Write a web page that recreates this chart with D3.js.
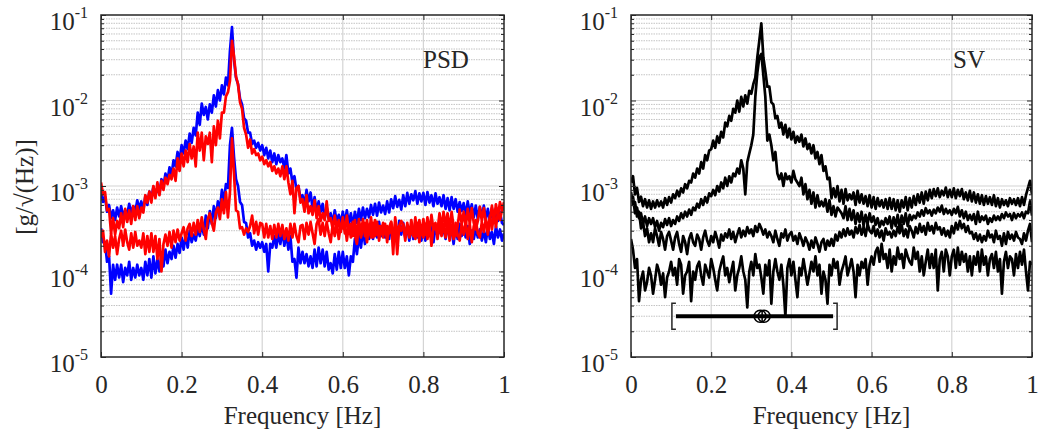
<html>
<script src="https://d3js.org/d3.v7.min.js"></script>
<style>
    body { margin: 0; background: #fff; }
    svg { font-family: "Liberation Serif", "Times New Roman", serif; }
    .curve { fill: none; stroke-width: 2.7px; stroke-linejoin: round; }
    .major { stroke: #d4d4d4; stroke-width: 1.2px; }
    .minor { stroke: #c4c4c4; stroke-width: 1px; stroke-dasharray: 1.5,1; }
    .tick line { stroke: #262626; }
    .tick text, .lbl { fill: #262626; font-size: 25px; font-family: "Liberation Serif", "Times New Roman", serif; }
</style>
<svg width=1040 height=439></svg>
<script>
    // frequency bins [Hz], 0.005 Hz resolution
    let freq = d3.range(0, 201).map(i => i * 0.005);

    // all amplitudes in units of 1e-4 g/sqrt(Hz), one row = 0.05 Hz
    let unit = 1e-4;

    // PSD panel
    let psdBlueHigh = [
        9, 6.5, 7.5, 5, 6, 4.2, 5.2, 4, 5.6, 4.4,
        5.8, 4.4, 5.2, 4.6, 6.2, 4.8, 5.8, 5, 6.8, 5.4,
        6.6, 5.2, 7.6, 6, 8.6, 7, 9.8, 7.8, 9.4, 8.2,
        12, 10, 14, 11.5, 16.5, 13.5, 20, 17, 25, 20,
        30, 24, 34, 27, 41, 32, 48, 39, 72, 52,
        92, 68, 84, 60, 90, 72, 115, 85, 132, 100,
        150, 118, 185, 150, 380, 720, 300, 185, 155, 105,
        90, 62, 58, 42, 42, 31, 34, 28, 32, 26,
        30, 23, 28, 21, 26, 19, 24, 18, 23, 19,
        21, 16, 23, 14, 16, 11, 13, 9, 10, 7,
        7.8, 6, 9, 6.6, 8.4, 5.4, 7.4, 5, 6.6, 5,
        6.2, 4.2, 5.6, 4.2, 4.8, 3.6, 5.2, 3.9, 4.6, 3.6,
        5, 3.7, 5.2, 3.6, 4.8, 3.3, 5, 3.7, 5.4, 4,
        5.6, 4.2, 5.4, 4.3, 6, 4.6, 6.2, 4.5, 6.4, 4.9,
        5.9, 4.7, 6.6, 4.9, 7, 5.5, 7.6, 5.7, 6.9, 5.3,
        7.8, 5.8, 8.3, 6.2, 8, 6.8, 8.7, 6.2, 8.2, 6.6,
        8.3, 6, 8.5, 6.4, 7.8, 5.8, 8.2, 6.2, 7.4, 5.8,
        7.8, 5.4, 7.2, 5.2, 7.4, 5.4, 7, 5, 6.5, 5.1,
        6.3, 4.5, 6.6, 4.7, 6.1, 4.3, 5.9, 4.1, 5.7, 4.3,
        5.9, 4.1, 5.4, 3.9, 5.5, 3.7, 5.2, 3.9, 5, 3.7,
        3.5
    ];
    let psdBlueLow = [
        3.2, 2.2, 2.2, 1.3, 1.5, 0.55, 1.2, 0.8, 1.2, 0.85,
        1.2, 0.75, 1.1, 0.9, 1.3, 0.8, 1.1, 0.85, 1.2, 0.9,
        1.1, 0.8, 1.3, 0.9, 1.4, 0.85, 1.5, 0.95, 1.4, 1.0,
        1.6, 1.15, 1.8, 1.25, 1.7, 1.4, 2.0, 1.45, 2.1, 1.65,
        2.5, 1.8, 2.7, 1.9, 3.0, 2.2, 2.7, 2.3, 3.2, 2.6,
        3.6, 2.7, 4.5, 3.2, 5.1, 3.6, 5.8, 4.2, 6.6, 5.2,
        9, 6.5, 10.5, 9.5, 30, 48, 22, 12, 10, 6.5,
        6, 3.8, 3.7, 2.5, 2.8, 2.0, 2.3, 1.8, 2.2, 1.9,
        2.2, 1.7, 2.1, 1.0, 2.1, 1.9, 2.6, 1.9, 2.8, 2.1,
        3, 2.0, 2.8, 1.8, 2.6, 1.3, 1.4, 0.85, 1.9, 1.25,
        1.7, 1.25, 1.6, 1.15, 1.5, 1.1, 1.8, 1.15, 1.9, 1.25,
        1.8, 1.15, 1.7, 1.05, 1.25, 0.95, 1.6, 1.05, 1.7, 1.1,
        1.7, 1.1, 1.5, 0.9, 1.5, 1.3, 2.4, 1.6, 2.6, 1.9,
        3.1, 2.1, 3.0, 2.4, 3.4, 2.4, 3.6, 2.5, 3.8, 2.6,
        3.4, 2.5, 3.2, 2.4, 3.6, 2.6, 3.0, 2.2, 3.9, 2.7,
        3.7, 2.5, 3.5, 2.3, 3.5, 2.4, 3.7, 2.5, 3.5, 2.3,
        3.4, 2.3, 3.9, 2.6, 3.6, 2.2, 3.4, 2.6, 3.2, 2.7,
        3.2, 2.4, 3.4, 2.6, 3.1, 2.1, 3.4, 2.4, 3.6, 2.6,
        3.2, 2.5, 3.4, 2.1, 3.0, 2.4, 3.2, 2.5, 3.1, 2.3,
        3.0, 2.2, 3.4, 2.4, 2.9, 2.1, 3.4, 2.5, 3.1, 2.3,
        2.8
    ];
    let psdRedHigh = [
        11, 8, 8.5, 5.2, 5.4, 2.8, 4.2, 2.7, 3.9, 3.2,
        4.8, 3.3, 5.4, 3.8, 5.2, 3.6, 5.8, 4, 5.8, 4.2,
        5.6, 4.9, 7.8, 6.4, 8.6, 6.4, 10, 7.2, 11, 7.8,
        11.5, 9, 12.5, 10.5, 13.5, 12, 16, 11.5, 21, 15,
        24, 17, 26, 19, 31, 21, 29, 17, 42, 26,
        42, 20, 38, 31, 42, 19, 50, 30, 58, 36,
        72, 72, 112, 125, 170, 500, 330, 190, 155, 95,
        80, 48, 40, 28, 35, 24, 27, 23, 24, 20,
        22, 18, 20, 17, 19, 15, 17, 14, 16, 13,
        17, 12, 17, 11, 8, 11.5, 4.8, 9.5, 10, 6.4,
        7, 5, 7.8, 4.8, 5.8, 4.6, 6.8, 4.2, 5.8, 3.9,
        4.8, 4, 6.6, 3.9, 4.2, 3.1, 4.5, 3.2, 4, 2.9,
        4.3, 2.8, 4.5, 3, 3.6, 2.6, 4, 2.5, 4.1, 2.8,
        4.1, 2.6, 4, 2.7, 4.3, 2.5, 4, 2.7, 3.4, 2.9,
        3.7, 3, 3.4, 2.8, 3.8, 1.6, 4.3, 2.8, 3.4, 3,
        3.6, 2.6, 3.4, 2.5, 3.1, 2.6, 4.3, 2.6, 4, 2.7,
        4.1, 2.7, 4.3, 2.9, 4.6, 3.1, 3.2, 3, 4.8, 3.2,
        5, 3.4, 4.8, 3, 5, 3.3, 2.6, 3.4, 5.3, 3.6,
        5, 3.3, 5.4, 3.6, 5.5, 3.7, 3.1, 3.9, 5.7, 3.9,
        5.5, 3.8, 2.7, 3.9, 5.9, 4, 6.1, 4.4, 6.5, 5.2,
        6.5
    ];
    let psdRedLow = [
        2.5, 3.0, 1.7, 2.3, 1.5, 2.8, 1.9, 2.6, 1.6, 2.4,
        3.0, 2.0, 3.1, 2.2, 1.8, 2.8, 1.9, 2.9, 2.0, 2.3,
        1.9, 2.8, 1.6, 2.6, 1.7, 2.8, 1.7, 2.6, 1.4, 2.4,
        1.0, 2.1, 2.7, 2.0, 2.9, 1.9, 3.0, 2.2, 3.1, 2.3,
        2.8, 3.3, 2.3, 3.2, 3.6, 2.6, 3.7, 2.7, 4.0, 2.9,
        4.3, 3.1, 2.4, 4.1, 4.8, 3.7, 3.0, 4.9, 5.6, 4.1,
        7, 4.8, 8.5, 4.3, 8.5, 36, 14, 5.2, 5.0, 3.2,
        3.3, 2.7, 3.2, 2.9, 3.4, 4.5, 2.8, 3.8, 2.7, 3.7,
        3.6, 2.5, 3.6, 2.5, 3.4, 2.4, 3.5, 2.5, 3.6, 2.6,
        3.5, 2.4, 3.2, 2.3, 3.6, 2.5, 3.6, 2.6, 2.2, 3.4,
        3.5, 2.4, 3.7, 2.7, 3.8, 2.8, 2.1, 3.6, 4.1, 2.7,
        3.7, 2.6, 3.8, 2.8, 2.2, 3.6, 2.6, 3.7, 2.4, 3.5,
        3.2, 3.7, 2.3, 3.5, 2.5, 3.8, 2.7, 2.1, 3.6, 2.5,
        3.1, 3.7, 2.2, 3.5, 2.5, 3.7, 2.6, 3.8, 2.3, 3.4,
        2.5, 3.6, 2.2, 3.3, 3.8, 2.5, 3.6, 1.6, 3.4, 3.9,
        3.5, 2.3, 3.7, 2.6, 4.0, 2.9, 2.4, 3.7, 2.2, 3.4,
        2.5, 3.6, 2.4, 3.5, 2.0, 3.3, 3.7, 2.4, 3.6, 2.6,
        3.6, 2.5, 3.8, 2.3, 3.5, 2.4, 3.7, 2.7, 2.3, 3.6,
        2.7, 3.8, 2.4, 3.6, 2.2, 3.4, 4.0, 2.8, 2.5, 3.8,
        2.9, 4.1, 3.0, 4.5, 3.1, 4.7, 3.3, 4.9, 4.0, 5.2,
        5.5
    ];

    // SV panel
    let sv1 = [
        11, 13, 8, 9.5, 6.5, 7.5, 5.8, 7, 5.6, 6.8,
        5.4, 6.6, 5.6, 6.8, 5.8, 6.6, 5.6, 7.2, 6, 7.4,
        6.4, 8, 7.2, 8.8, 7.6, 9.4, 8.4, 10.5, 9.4, 11.5,
        11, 14, 12.5, 16, 14, 19, 16, 23, 20, 26,
        27, 34, 28, 38, 32, 43, 37, 55, 50, 66,
        58, 80, 72, 100, 74, 110, 85, 115, 92, 130,
        120, 155, 185, 320, 500, 800, 320, 220, 145, 145,
        95, 90, 62, 66, 48, 55, 40, 52, 37, 47,
        35, 43, 32, 38, 33, 40, 29, 36, 27, 31,
        24, 30, 21, 25, 18, 23, 15, 17, 12, 12.5,
        7.2, 9.4, 7.4, 10, 6.6, 9, 6.2, 9.2, 6.8, 8,
        7, 8.4, 6, 8.8, 6.4, 8, 6.2, 7.6, 5.8, 7.8,
        5.6, 7.4, 5.4, 7.2, 5.8, 6.8, 5.6, 7, 5.4, 7.2,
        5.4, 7, 5.2, 6.8, 5.0, 6.8, 5.6, 7.4, 5.2, 7.2,
        5.6, 7.6, 6, 8, 6.4, 8.4, 6.2, 8.6, 6.8, 9,
        7.2, 9.2, 7.6, 9.4, 7.4, 8.8, 7.8, 9.6, 7.4, 9,
        7.4, 9.4, 7.2, 9, 7.6, 9.2, 7, 8.4, 6.8, 8.8,
        6.6, 8.4, 6.4, 8, 6.2, 7.8, 6, 7.6, 6.2, 7.4,
        6, 7.8, 5.8, 7.2, 5.6, 7, 6, 6.8, 5.8, 7.2,
        6.2, 7, 6, 7.2, 5.8, 7.4, 6, 7.8, 9.5, 11.5,
        8
    ];
    let sv2 = [
        6.5, 7.5, 4.8, 5.6, 4.2, 4.8, 3.6, 4.4, 3.4, 4.2,
        3.6, 4.2, 3.3, 3.9, 3.0, 3.7, 3.3, 4.1, 3.5, 4.2,
        3.4, 4.0, 3.6, 4.4, 3.9, 4.8, 4.2, 5.0, 4.4, 5.3,
        4.6, 5.6, 5.2, 6.2, 5.6, 7.0, 6.0, 7.4, 6.4, 8.2,
        7.6, 9.0, 7.8, 10, 8.6, 11, 9.4, 12.5, 10, 13,
        11, 14, 13, 16, 14, 20, 16, 8, 19, 24,
        30, 40, 110, 210, 320, 350, 200, 110, 34, 40,
        30, 20, 25, 14, 12, 14, 10, 14, 12, 13,
        11, 15, 12, 11, 10, 12.5, 8, 10.5, 7, 9,
        6.2, 8.4, 5.6, 7.8, 5.8, 6.6, 5.8, 7, 5, 6.8,
        4.6, 5.8, 4.4, 5.6, 5.2, 4.8, 4.2, 5.8, 4.0, 5.4,
        4.0, 5.2, 3.6, 4.8, 3.8, 5.0, 3.4, 4.6, 3.6, 4.8,
        3.8, 4.4, 3.5, 4.2, 3.3, 3.9, 3.5, 4.2, 3.6, 4.4,
        3.2, 4.3, 3.4, 4.6, 3.2, 4.5, 3.6, 4.8, 3.4, 4.6,
        4.0, 4.5, 4.2, 4.9, 4.4, 5.2, 4.5, 5.5, 4.8, 5.2,
        4.5, 5.3, 4.8, 5.6, 5.0, 5.9, 4.7, 5.4, 4.8, 5.2,
        4.6, 5.4, 4.8, 5.7, 4.4, 5.2, 4.2, 5.0, 4.0, 4.6,
        4.0, 4.7, 3.6, 5.0, 3.8, 4.4, 4.0, 4.5, 3.6, 4.2,
        3.8, 4.5, 4.0, 4.4, 4.0, 4.7, 4.2, 4.9, 4.4, 4.7,
        4.0, 4.8, 4.2, 4.7, 4.4, 4.9, 4.2, 5.0, 4.8, 6.6,
        4.5
    ];
    let sv3 = [
        8.5, 6, 6.5, 4.4, 5, 3.2, 3.8, 2.6, 3.2, 2.2,
        2.8, 2.2, 3.2, 2.6, 2.0, 2.9, 2.4, 1.8, 2.6, 2.9,
        2.3, 1.8, 2.5, 2.9, 2.1, 1.7, 2.6, 2.2, 1.6, 2.4,
        2.8, 2.2, 2.0, 2.7, 2.4, 1.8, 2.5, 3.0, 2.3, 2.0,
        2.6, 2.2, 2.9, 2.4, 1.9, 2.7, 2.3, 2.8, 2.5, 3.1,
        2.4, 2.9, 2.2, 2.7, 3.2, 2.5, 3.0, 2.6, 3.3, 2.8,
        3.1, 2.6, 3.4, 2.9, 3.6, 3.2, 2.7, 3.1, 2.5, 2.9,
        2.6, 2.2, 3.0, 2.4, 2.0, 2.8, 2.5, 3.1, 2.3, 2.7,
        2.9, 2.3, 2.6, 2.1, 2.8, 2.4, 2.0, 2.5, 2.2, 1.8,
        2.3, 1.9, 2.5, 2.1, 1.7, 2.2, 2.4, 1.8, 2.3, 2.0,
        2.4, 2.0, 2.7, 2.3, 2.9, 2.5, 3.1, 2.6, 3.2, 2.7,
        3.0, 2.5, 3.3, 2.8, 3.5, 2.7, 3.3, 2.6, 3.6, 3.0,
        2.8, 3.4, 2.6, 3.1, 2.5, 3.0, 2.3, 3.2, 2.7, 2.9,
        2.5, 3.0, 2.6, 3.3, 2.8, 3.5, 2.6, 3.1, 2.5, 3.4,
        3.0, 2.5, 3.3, 2.8, 3.6, 2.9, 3.4, 2.7, 3.7, 3.0,
        3.4, 2.8, 3.7, 3.1, 3.3, 2.7, 3.2, 2.6, 3.0, 2.5,
        3.4, 2.8, 3.7, 3.1, 3.9, 3.2, 3.6, 2.9, 3.4, 2.8,
        2.9, 2.4, 2.8, 2.3, 2.7, 2.2, 2.6, 2.3, 3.0, 2.5,
        2.7, 2.2, 3.0, 2.4, 2.6, 2.0, 2.8, 2.1, 2.9, 2.4,
        2.7, 2.3, 2.9, 2.5, 2.4, 2.1, 2.8, 2.3, 3.0, 3.6,
        2.2
    ];
    let sv4 = [
        2.4, 1.8, 1.1, 1.4, 0.45, 0.8, 1.0, 0.6, 0.75, 1.1,
        0.9, 0.55, 0.8, 1.2, 1.0, 0.7, 0.95, 0.5, 0.85, 1.0,
        1.3, 0.9, 1.1, 0.7, 1.4, 1.2, 0.55, 0.9, 1.0, 1.3,
        0.45, 1.0, 0.8, 1.15, 1.3, 0.9, 0.7, 1.2, 1.0, 0.85,
        1.4, 1.1, 0.8, 0.6, 1.0, 1.25, 1.5, 0.9, 1.1, 0.75,
        1.0, 1.3, 0.6, 0.9, 1.1, 1.5, 1.0, 0.8, 0.38, 1.0,
        1.3, 0.9, 1.6, 1.1, 1.2, 0.85, 0.55, 1.2, 0.9, 1.35,
        0.42, 1.0, 1.4, 1.0, 0.8, 1.2, 0.7, 0.3, 1.1, 1.4,
        0.9, 1.3, 0.8, 0.5, 1.1, 0.9, 1.4, 1.0, 0.7, 0.95,
        1.3, 1.0, 1.5, 0.9, 1.2, 0.55, 1.0, 0.8, 0.42, 1.2,
        0.9, 1.4, 1.1, 1.3, 0.7, 1.0, 1.2, 1.5, 0.9, 1.1,
        1.4, 1.0, 0.5, 1.2, 0.9, 1.3, 1.1, 1.4, 0.7, 1.2,
        1.5, 1.2, 1.7, 1.9, 1.3, 2.1, 1.4, 1.6, 1.1, 1.8,
        1.0, 1.5, 1.2, 1.9, 1.4, 1.6, 1.1, 1.8, 1.5, 1.3,
        1.2, 1.9, 1.4, 1.7, 1.0, 1.5, 0.9, 1.3, 1.8, 1.1,
        1.6, 1.1, 1.8, 0.6, 1.4, 1.7, 1.0, 1.8, 1.5, 0.9,
        1.5, 1.8, 1.1, 1.9, 1.2, 1.7, 1.3, 1.6, 1.0, 1.5,
        0.9, 1.5, 1.2, 1.7, 1.0, 1.8, 1.2, 1.5, 0.9, 1.4,
        1.6, 1.1, 1.7, 1.0, 1.4, 0.55, 1.3, 1.7, 1.1, 1.5,
        1.4, 0.9, 1.6, 1.1, 1.7, 1.2, 1.8, 1.0, 0.6, 1.3,
        1.2
    ];

    // SV interval marker
    let svBand = [0.112, 0.504];
    let svCentre = 0.327;
    let svLevel = 3e-5;

    let xTicks = [0, 0.2, 0.4, 0.6, 0.8, 1];
    let yDecades = [1e-5, 1e-4, 1e-3, 1e-2, 1e-1];
    let yExp = ['-5', '-4', '-3', '-2', '-1'];

    let svg = d3.select('svg');

    function drawPanel(left, width, name, series, textX) {
        let top = 15, height = 342;
        let x = d3.scaleLinear().domain([0, 1]).range([0, width]);
        let y = d3.scaleLog().domain([1e-5, 1e-1]).range([height, 0]);
        let g = svg.append('g').attr('transform', 'translate(' + left + ',' + top + ')');

        let minors = [];
        yDecades.slice(0, 4).forEach(d => d3.range(2, 10).forEach(k => minors.push(d * k)));

        // grid
        g.selectAll('.minor').data(minors).enter().append('line')
            .attr('class', 'minor')
            .attr('x1', 0).attr('x2', width)
            .attr('y1', d => y(d)).attr('y2', d => y(d));
        g.selectAll('.hmaj').data(yDecades.slice(1, 4)).enter().append('line')
            .attr('class', 'major hmaj')
            .attr('x1', 0).attr('x2', width)
            .attr('y1', d => y(d)).attr('y2', d => y(d));
        g.selectAll('.vmaj').data(xTicks.slice(1, 5)).enter().append('line')
            .attr('class', 'major vmaj')
            .attr('x1', d => x(d)).attr('x2', d => x(d))
            .attr('y1', 0).attr('y2', height);

        g.append('clipPath').attr('id', 'clip' + name)
            .append('rect').attr('width', width).attr('height', height);

        let line = d3.line()
            .defined((d, i) => i < freq.length)
            .x((d, i) => x(freq[i]))
            .y(d => y(d * unit));

        g.append('g').attr('clip-path', 'url(#clip' + name + ')')
            .selectAll('path').data(series).enter().append('path')
            .attr('class', 'curve')
            .attr('stroke', d => d.color)
            .attr('d', d => line(d.values));

        // ticks (inward)
        g.append('g')
            .attr('transform', 'translate(0,' + height + ')')
            .call(d3.axisBottom(x).tickValues(xTicks).tickSize(-5).tickFormat(d => d))
            .call(a => a.select('.domain').remove())
            .attr('font-family', null).attr('font-size', null)
            .selectAll('text').attr('dy', null).attr('y', 36);
        g.append('g')
            .call(d3.axisTop(x).tickValues(xTicks).tickSize(-5).tickFormat(''))
            .call(a => a.select('.domain').remove());
        g.append('g')
            .call(d3.axisLeft(y).tickValues(yDecades).tickSize(-5).tickFormat(''))
            .call(a => a.select('.domain').remove());
        g.append('g')
            .call(d3.axisLeft(y).tickValues(minors).tickSize(-3).tickFormat(''))
            .call(a => a.select('.domain').remove());
        g.append('g').attr('transform', 'translate(' + width + ',0)')
            .call(d3.axisRight(y).tickValues(yDecades).tickSize(-5).tickFormat(''))
            .call(a => a.select('.domain').remove());
        g.append('g').attr('transform', 'translate(' + width + ',0)')
            .call(d3.axisRight(y).tickValues(minors).tickSize(-3).tickFormat(''))
            .call(a => a.select('.domain').remove());
        g.selectAll('.tick line').attr('stroke', '#262626');

        // y labels 10^n
        let yl = g.selectAll('.ylab').data(yDecades).enter().append('text')
            .attr('class', 'lbl ylab')
            .attr('text-anchor', 'end')
            .attr('x', -13)
            .attr('y', d => y(d) + 15);
        yl.append('tspan').text('10');
        yl.append('tspan').attr('font-size', 16).attr('dy', -12).text((d, i) => yExp[i]);

        g.append('rect')
            .attr('width', width).attr('height', height)
            .attr('fill', 'none').attr('stroke', '#262626').attr('stroke-width', 1.5);

        g.append('text').attr('class', 'lbl')
            .attr('x', textX).attr('y', 53)
            .text(name);

        g.append('text').attr('class', 'lbl')
            .attr('text-anchor', 'middle')
            .attr('x', width / 2).attr('y', 409)
            .text('Frequency [Hz]');

        return { g: g, x: x, y: y };
    }

    let p1 = drawPanel(101, 403, 'PSD', [
        { color: '#0000ff', values: psdBlueHigh },
        { color: '#0000ff', values: psdBlueLow },
        { color: '#ff0000', values: psdRedHigh },
        { color: '#ff0000', values: psdRedLow }
    ], 322);

    let p2 = drawPanel(631, 401, 'SV', [
        { color: '#000', values: sv1 },
        { color: '#000', values: sv2 },
        { color: '#000', values: sv3 },
        { color: '#000', values: sv4 }
    ], 322);

    // y axis title
    svg.append('text').attr('class', 'lbl')
        .attr('text-anchor', 'middle')
        .attr('transform', 'translate(33,187) rotate(-90)')
        .text('[g/\u221A(Hz)]');

    // interval bar in SV panel
    let bx = p2.x, by = p2.y, bg = p2.g;
    let yb = by(svLevel);
    bg.append('line')
        .attr('x1', bx(svBand[0])).attr('x2', bx(svBand[1]))
        .attr('y1', yb).attr('y2', yb)
        .attr('stroke', '#000').attr('stroke-width', 4);
    let bl = bx(svBand[0]) - 4, br = bx(svBand[1]) + 4;
    bg.append('path')
        .attr('d', 'M' + (bl + 4) + ',' + (yb - 13) + 'H' + bl + 'V' + (yb + 13) + 'H' + (bl + 4) +
                   'M' + (br - 4) + ',' + (yb - 13) + 'H' + br + 'V' + (yb + 13) + 'H' + (br - 4))
        .attr('fill', 'none').attr('stroke', '#262626').attr('stroke-width', 1.5);
    let cx = bx(svCentre);
    [-2, 2].forEach(dx => {
        bg.append('circle')
            .attr('cx', cx + dx).attr('cy', yb).attr('r', 6)
            .attr('fill', 'none').attr('stroke', '#000').attr('stroke-width', 1.5);
    });
    bg.append('line')
        .attr('x1', cx).attr('x2', cx).attr('y1', yb - 6).attr('y2', yb + 6)
        .attr('stroke', '#000').attr('stroke-width', 1.5);
</script>
</html>
